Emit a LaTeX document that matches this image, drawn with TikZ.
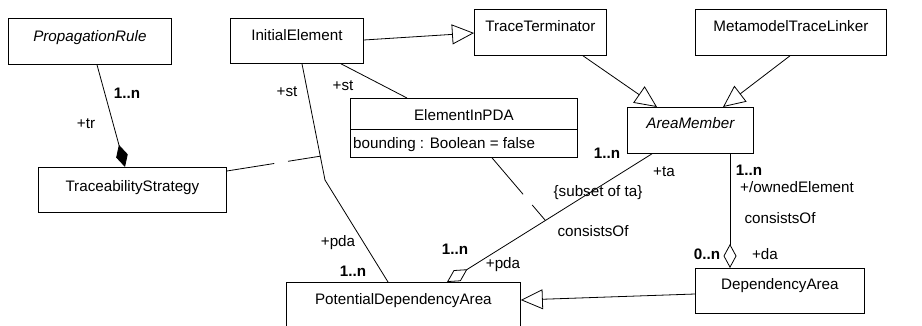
\documentclass[tikz,border=0pt]{standalone}
\usepackage{fontspec}
\setmainfont{Liberation Sans}
\usetikzlibrary{arrows.meta,calc}
\tikzset{
  umlbox/.style={draw, line width=0.8pt, inner sep=0pt, anchor=north west},
  txt/.style={font=\fontsize{15.2}{18}\selectfont, inner sep=0pt},
  mult/.style={font=\fontsize{15.2}{18}\selectfont\bfseries, inner sep=0pt},
  conn/.style={line width=0.8pt},
  gen/.style={conn, -{Triangle[open, length=22pt, width=20pt]}},
  comp/.style={conn, -{Diamond[length=23pt, width=12pt]}},
  agg/.style={conn, -{Diamond[open, length=24pt, width=13pt]}},
  assoc/.style={conn, dash pattern=on 48pt off 14pt}
}
\begin{document}
\begin{tikzpicture}[x=1pt,y=-1pt]
\useasboundingbox (0,0) rectangle (922,325);
\clip (0,0) rectangle (922,325);
% boxes
\node[umlbox, minimum width=163pt, minimum height=46pt] (pr) at (8,18) {};
\node[txt, anchor=base] (prt) at ($(pr.north)+(0,23)$) {\itshape PropagationRule};
\node[umlbox, minimum width=133pt, minimum height=45pt] (ie) at (230,18) {};
\node[txt, anchor=base] (iet) at ($(ie.north)+(0,22)$) {InitialElement};
\node[umlbox, minimum width=132pt, minimum height=46pt] (tt) at (474,9) {};
\node[txt, anchor=base] (ttt) at ($(tt.north)+(0,22)$) {TraceTerminator};
\node[umlbox, minimum width=191pt, minimum height=46pt] (mtl) at (695,9) {};
\node[txt, anchor=base] (mtlt) at ($(mtl.north)+(0,22)$) {MetamodelTraceLinker};
\node[umlbox, minimum width=126pt, minimum height=46pt] (am) at (627,107) {};
\node[txt, anchor=base] (amt) at ($(am.north)+(0,21)$) {\itshape AreaMember};
\node[umlbox, minimum width=227pt, minimum height=59pt] (ep) at (350,98) {};
\node[txt, anchor=base] (ept) at ($(ep.north)+(0,22)$) {ElementInPDA};
\draw[line width=0.8pt] ($(ep.north west)+(0,31)$) -- ($(ep.north east)+(0,31)$);
\node[txt, anchor=base west] (epa) at ($(ep.north west)+(3,50)$) {bounding : Boolean = false};
\node[umlbox, minimum width=188pt, minimum height=45pt] (ts) at (38,167) {};
\node[txt, anchor=base] (tst) at ($(ts.north)+(0,24)$) {TraceabilityStrategy};
\node[umlbox, minimum width=234pt, minimum height=60pt] (pda) at (286,282) {};
\node[txt, anchor=base] (pdat) at ($(pda.north)+(0,22)$) {PotentialDependencyArea};
\node[umlbox, minimum width=169pt, minimum height=45pt] (da) at (695,268) {};
\node[txt, anchor=base] (dat) at ($(da.north)+(0,21)$) {DependencyArea};
% connectors
\draw[comp] ($(pr.south west)+(89,0)$) -- ($(ts.north west)+(87,0)$);
\draw[gen] ($(ie.north east)+(0,22)$) -- ($(tt.north west)+(0,24)$);
\draw[conn] ($(ie.south west)+(111,0)$) -- ($(ep.north west)+(57,0)$);
\coordinate (iea) at ($(ie.south west)+(72,0)$);
\coordinate (bend) at (325,180);
\draw[conn] (iea) -- (bend) -- ($(pda.north west)+(102,0)$);
\coordinate (m1) at ($(iea)!0.795!(bend)$);
\draw[assoc] ($(ts.north east)+(0,4)$) -- (m1);
\draw[gen] ($(tt.south west)+(109,0)$) -- ($(am.north west)+(30,0)$);
\draw[gen] ($(mtl.south west)+(95,0)$) -- ($(am.north west)+(96,0)$);
\coordinate (ama) at ($(am.south west)+(25,0)$);
\coordinate (pdb) at ($(pda.north west)+(161,0)$);
\draw[agg] (ama) -- (pdb);
\coordinate (m2) at ($(ama)!0.52!(pdb)$);
\draw[assoc] ($(ep.south west)+(142,0)$) -- (m2);
\draw[agg] ($(am.south west)+(103,0)$) -- ($(da.north west)+(35,0)$);
\draw[gen] ($(da.north west)+(0,26)$) -- ($(pda.north east)+(0,18)$);
% labels
\node[mult] (l1) at (127,93) {1..n};
\node[txt] (l2) at (86,124) {+tr};
\node[txt] (l3) at (287,92) {+st};
\node[txt] (l4) at (343,86) {+st};
\node[txt] (l5) at (338,243) {+pda};
\node[mult] (l6) at (353,271) {1..n};
\node[mult] (l7) at (607,153) {1..n};
\node[txt] (l8) at (664,172) {+ta};
\node[txt] (l9) at (598,193) {\{subset of ta\}};
\node[txt] (l10) at (593,231) {consistsOf};
\node[mult] (l11) at (455,249) {1..n};
\node[txt] (l12) at (503,265) {+pda};
\node[mult] (l13) at (749,170) {1..n};
\node[txt] (l14) at (797,187) {+/ownedElement};
\node[txt] (l15) at (780,218) {consistsOf};
\node[mult] (l16) at (707,254) {0..n};
\node[txt] (l17) at (765,254) {+da};
\end{tikzpicture}
\end{document}
